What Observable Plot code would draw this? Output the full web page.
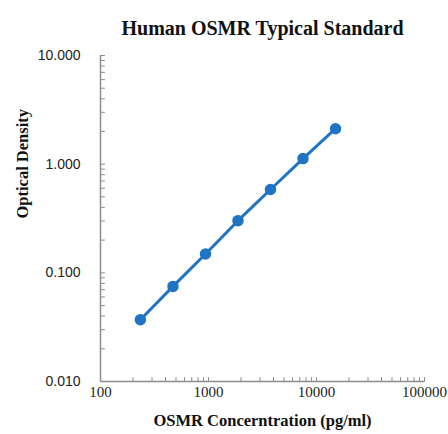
<!DOCTYPE html>
<html>
<head>
<meta charset="utf-8">
<script src="https://cdn.jsdelivr.net/npm/d3@7"></script>
<script src="https://cdn.jsdelivr.net/npm/@observablehq/plot@0.6"></script>
<style>
body { margin: 0; background: #fff; }
svg { font-family: "Liberation Serif", "Times New Roman", serif; }
</style>
</head>
<body>
<div id="chart"></div>
<script>
const concentration = [234, 469, 938, 1875, 3750, 7500, 15000];
const opticalDensity = [0.037, 0.075, 0.149, 0.302, 0.585, 1.125, 2.12];
const xTickValues = [100, 1000, 10000, 100000];
const xTickLabels = ["100", "1000", "10000", "100000"];
const yTickValues = [0.01, 0.1, 1, 10];
const yTickLabels = ["0.010", "0.100", "1.000", "10.000"];
const title = "Human OSMR Typical Standard";
const xTitle = "OSMR Concerntration (pg/ml)";
const yTitle = "Optical Density";

const data = concentration.map((c, i) => ({c, od: opticalDensity[i]}));
const xMinor = [];
for (const d of [100, 1000, 10000]) for (let k = 2; k <= 10; k++) xMinor.push(d * k);
const yMinor = [];
for (const d of [0.01, 0.1, 1]) for (let k = 2; k <= 10; k++) yMinor.push(d * k);

const tickShape = {draw(ctx, l) { ctx.moveTo(0, 0); ctx.lineTo(0, -l); }};
const axisColor = "#8c8c8c";
const blue = "#1f74c4";

const chart = Plot.plot({
  width: 448,
  height: 434,
  marginLeft: 100,
  marginRight: 24,
  marginTop: 55,
  marginBottom: 53,
  style: {fontFamily: "Liberation Serif, Times New Roman, serif", background: "#fff"},
  x: {type: "log", domain: [100, 100000], axis: null},
  y: {type: "log", domain: [0.01, 10], axis: null},
  marks: [
    Plot.ruleY([0.01], {stroke: axisColor, strokeWidth: 1.5}),
    Plot.ruleX([100], {stroke: axisColor, strokeWidth: 1.5}),
    Plot.vector(xMinor, {x: d => d, frameAnchor: "bottom", length: 4, anchor: "start", shape: tickShape, stroke: axisColor, strokeWidth: 1}),
    Plot.vector(yMinor, {y: d => d, frameAnchor: "left", length: 4, rotate: 90, anchor: "start", shape: tickShape, stroke: axisColor, strokeWidth: 1}),
    Plot.text(xTickValues, {x: d => d, frameAnchor: "bottom", dy: 15, text: d => xTickLabels[xTickValues.indexOf(d)], fontSize: 15, fill: "#222"}),
    Plot.text(yTickValues, {y: d => d, frameAnchor: "left", dx: -20, textAnchor: "end", text: d => yTickLabels[yTickValues.indexOf(d)], fontSize: 14, fontFamily: "Liberation Sans, Arial, sans-serif", fill: "#222"}),
    Plot.line(data, {x: "c", y: "od", stroke: blue, strokeWidth: 3}),
    Plot.dot(data, {x: "c", y: "od", r: 5, fill: blue, stroke: blue}),
    Plot.text([title], {frameAnchor: "top", dy: -35, fontSize: 20, fontWeight: "bold", fill: "#111"}),
    Plot.text([xTitle], {frameAnchor: "bottom", dy: 44, fontSize: 16.5, fontWeight: "bold", fill: "#111"}),
    Plot.text([yTitle], {frameAnchor: "left", dx: -78, rotate: -90, fontSize: 16.5, fontWeight: "bold", fill: "#111"})
  ]
});
document.getElementById("chart").appendChild(chart);
</script>
</body>
</html>
